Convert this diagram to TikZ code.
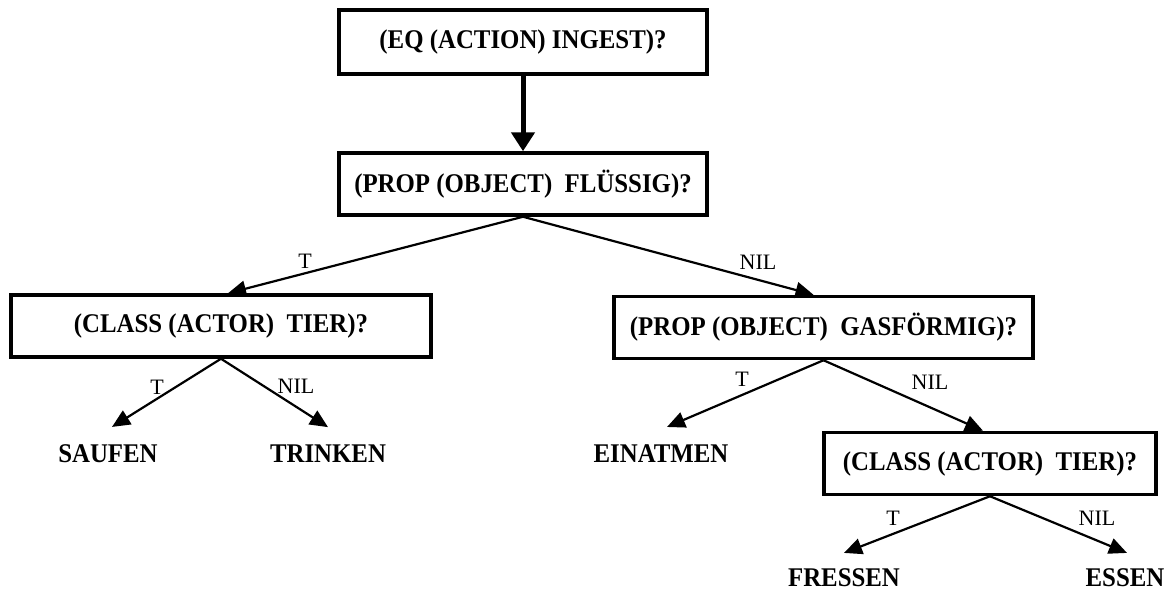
\documentclass[tikz,border=0pt]{standalone}
\usepackage{fontspec}
\setmainfont[FakeStretch=0.92]{Liberation Serif}
\newfontfamily\lblfont{Liberation Serif}
\usetikzlibrary{arrows.meta}
\tikzset{
  qbox/.style={draw, line width=3.5pt, inner sep=0pt, minimum height=62pt,
    font=\fontsize{27}{32}\selectfont\bfseries},
  leaf/.style={inner sep=0pt, anchor=base, font=\fontsize{27}{32}\selectfont\bfseries},
  lbl/.style={inner sep=0pt, font=\lblfont\fontsize{22}{26}\selectfont},
  thinarrow/.style={line width=2.2pt, -{Triangle[length=18pt,width=16pt]}},
  thickarrow/.style={line width=5pt, -{Triangle[length=19pt,width=23pt]}}
}
\begin{document}
\begin{tikzpicture}[x=1pt,y=-1pt]
\useasboundingbox (0,0) rectangle (1171,590);
\node[qbox, minimum width=368pt, minimum height=64pt] (q1) at (523,42) {(EQ (ACTION) INGEST)?};
\node[qbox, minimum width=368pt] (q2) at (523,184) {(PROP (OBJECT)~~FLÜSSIG)?};
\node[qbox, minimum width=420pt] (q3) at (221,326) {(CLASS (ACTOR)~~TIER)?};
\node[qbox, minimum width=419pt] (q4) at (823.5,327.5) {(PROP (OBJECT)~~GASFÖRMIG)?};
\node[qbox, minimum width=332pt] (q5) at (990,463.5) {(CLASS (ACTOR)~~TIER)?};

\node[leaf] (saufen) at (108,462) {SAUFEN};
\node[leaf] (trinken) at (328,462) {TRINKEN};
\node[leaf] (einatmen) at (661,462) {EINATMEN};
\node[leaf] (fressen) at (844,586) {FRESSEN};
\node[leaf] (essen) at (1125,586) {ESSEN};

\draw[thickarrow] (q1.south) -- (q2.north);
\draw[thinarrow] (q2.south) -- ([xshift=7pt]q3.north);
\draw[thinarrow] (q2.south) -- ([xshift=-10pt]q4.north);
\draw[thinarrow] (q3.south) -- ([xshift=4pt,yshift=17pt]saufen.north);
\draw[thinarrow] (q3.south) -- ([yshift=17pt]trinken.north);
\draw[thinarrow] (q4.south) -- ([xshift=6pt,yshift=17pt]einatmen.north);
\draw[thinarrow] (q4.south) -- ([xshift=-7pt]q5.north);
\draw[thinarrow] (q5.south) -- ([yshift=15pt]fressen.north);
\draw[thinarrow] (q5.south) -- ([xshift=2pt,yshift=15pt]essen.north);

\node[lbl] (t1) at (305,261) {T};
\node[lbl] (n1) at (758,262) {NIL};
\node[lbl] (t2) at (157,387) {T};
\node[lbl] (n2) at (296,386) {NIL};
\node[lbl] (t3) at (742,379) {T};
\node[lbl] (n3) at (930,382) {NIL};
\node[lbl] (t4) at (893,518) {T};
\node[lbl] (n4) at (1097,518) {NIL};
\end{tikzpicture}
\end{document}
